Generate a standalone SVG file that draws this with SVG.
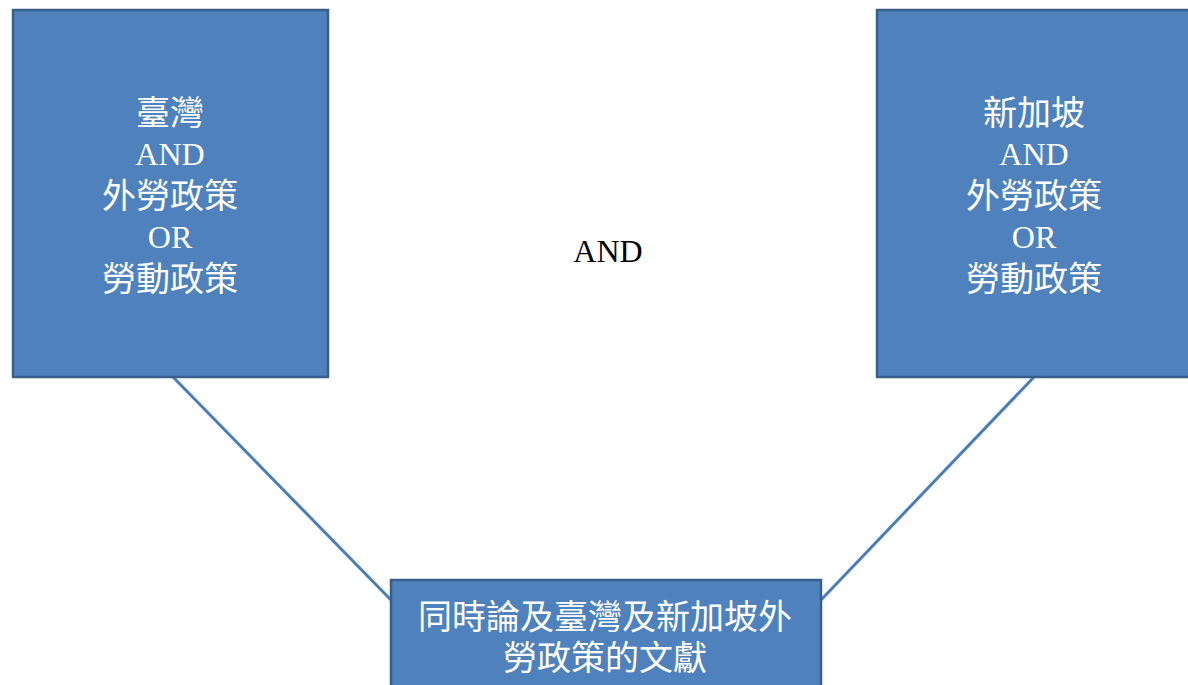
<svg xmlns="http://www.w3.org/2000/svg" width="1188" height="685" viewBox="0 0 1188 685">
<style>
.box{fill:#4F81BD;stroke:#3A5F8C;stroke-width:2.5}
.conn{stroke:#4A7EBB;stroke-width:3;fill:none}
.t{font-family:"Liberation Serif","Noto Sans CJK TC",serif;fill:#FFFFFF;text-anchor:middle}
.cjk{font-size:34px}
.lat{font-size:32px}
.mid{font-family:"Liberation Serif",serif;font-size:32px;fill:#000000;text-anchor:middle}
</style>
<rect width="1188" height="685" fill="#FFFFFF"/>
<g id="connectors">
<line class="conn" x1="173" y1="377" x2="391" y2="600"/>
<line class="conn" x1="1034" y1="377" x2="821" y2="600"/>
</g>
<g id="node-taiwan">
<rect class="box" x="13" y="10" width="315" height="367"/>
<text class="t cjk" x="170" y="125">臺灣</text>
<text class="t lat" x="170" y="165">AND</text>
<text class="t cjk" x="170" y="208">外勞政策</text>
<text class="t lat" x="170" y="248">OR</text>
<text class="t cjk" x="170" y="291">勞動政策</text>
</g>
<g id="node-singapore">
<rect class="box" x="877" y="10" width="316" height="367"/>
<text class="t cjk" x="1034" y="125">新加坡</text>
<text class="t lat" x="1034" y="165">AND</text>
<text class="t cjk" x="1034" y="208">外勞政策</text>
<text class="t lat" x="1034" y="248">OR</text>
<text class="t cjk" x="1034" y="291">勞動政策</text>
</g>
<g id="node-and">
<text class="mid" x="608" y="262">AND</text>
</g>
<g id="node-both">
<rect class="box" x="391" y="580" width="430" height="115"/>
<text class="t cjk" x="605" y="629">同時論及臺灣及新加坡外</text>
<text class="t cjk" x="605" y="670">勞政策的文獻</text>
</g>
</svg>
